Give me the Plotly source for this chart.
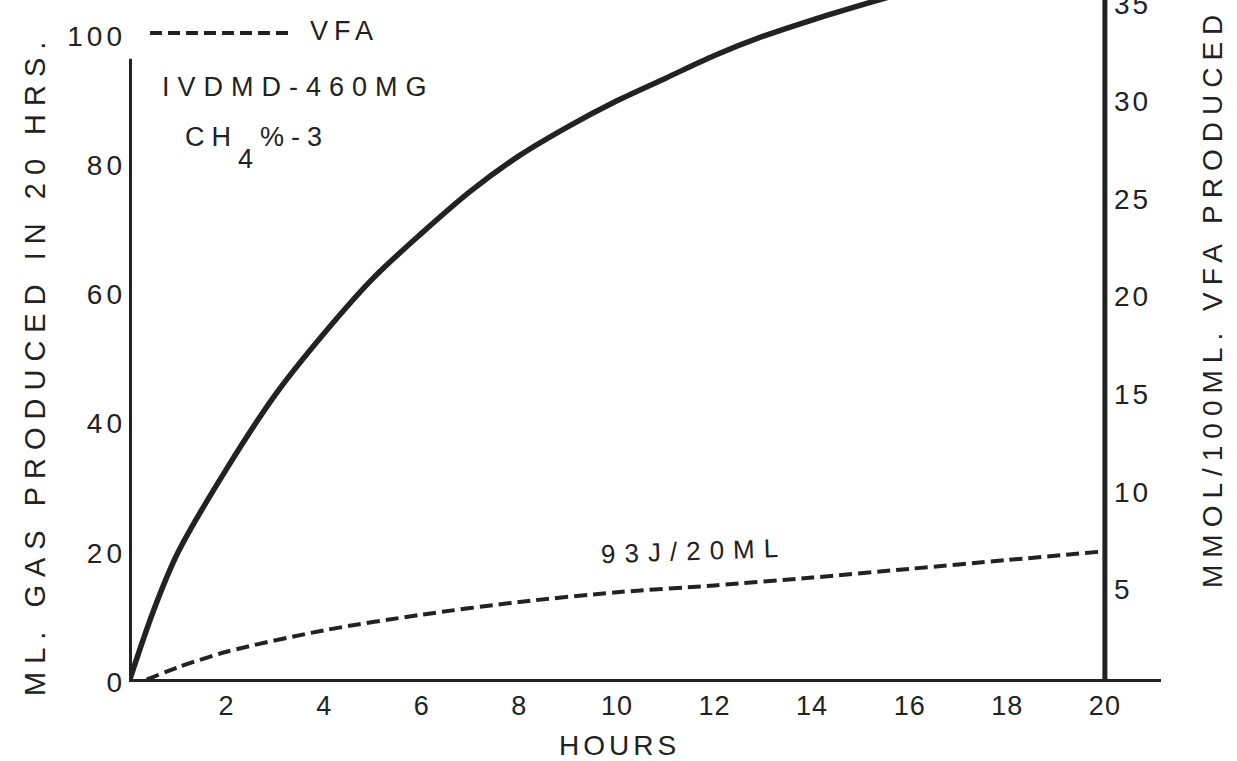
import plotly.graph_objects as go

# ---------------- data ----------------
hours_gas = [0, 0.5, 1, 2, 3, 4, 5, 6, 7, 8, 9, 10, 11, 12, 13, 14, 15, 16]
gas_ml = [0, 11, 20, 33, 44.5, 54, 62.5, 69.5, 76, 81.5, 86, 90, 93.5, 97, 100, 102.5, 104.8, 107]

hours_vfa = [0, 1, 2, 4, 6, 8, 10, 12, 14, 16, 18, 20]
vfa_mmol = [0, 1.0, 1.8, 2.9, 3.7, 4.35, 4.85, 5.2, 5.6, 6.05, 6.5, 6.95]

x_ticks = [2, 4, 6, 8, 10, 12, 14, 16, 18, 20]
x_tick_labels = ["2", "4", "6", "8", "10", "12", "14", "16", "18", "20"]
left_ticks = [0, 20, 40, 60, 80, 100]
left_tick_labels = ["0", "20", "40", "60", "80", "100"]
right_ticks = [5, 10, 15, 20, 25, 30, 35]
right_tick_labels = ["5", "10", "15", "20", "25", "30", "35"]

x_title = "HOURS"
left_title = "ML. GAS PRODUCED IN 20 HRS."
right_title = "MMOL/100ML. VFA PRODUCED"
legend_label = "VFA"
note_1 = "IVDMD-460MG"
note_2 = "CH<span style=\"baseline-shift:-22px\">4</span>%-3"
curve_label = "93J/20ML"

# ---------------- layout geometry ----------------
W, H = 1237, 761
ML, MR, MT, MB = 129, 76, 0, 79
PW, PH = W - ML - MR, H - MT - MB
X_MAX = 21.15
INK = "#222222"
FONT = "Liberation Sans, Arial, sans-serif"


def px(xp):
    return (xp - ML) / PW


def py(yp):
    return (MT + PH - yp) / PH


def spaced(t, s):
    return f'<span style="letter-spacing:{s}px">{t}</span>'


fig = go.Figure()

fig.add_trace(go.Scatter(
    x=hours_gas, y=gas_ml, mode="lines", line=dict(color=INK, width=5.5, shape="spline", smoothing=0.9),
    yaxis="y", hoverinfo="skip"))
fig.add_trace(go.Scatter(
    x=hours_vfa, y=vfa_mmol, mode="lines", line=dict(color=INK, width=4, dash="13px,6px", shape="spline", smoothing=0.8),
    yaxis="y2", hoverinfo="skip"))

shapes = [
    # left axis
    dict(type="line", xref="x", yref="y", x0=0, x1=0, y0=0, y1=96.5, line=dict(color=INK, width=6)),
    # bottom axis
    dict(type="line", xref="x", yref="y", x0=0, x1=X_MAX, y0=0, y1=0, line=dict(color=INK, width=6)),
    # right axis
    dict(type="line", xref="x", yref="paper", x0=20, x1=20, y0=0, y1=1, line=dict(color=INK, width=5)),
    # legend sample
    dict(type="line", xref="paper", yref="paper", x0=px(150), x1=px(294), y0=py(33), y1=py(33),
         line=dict(color=INK, width=4, dash="12px,6px")),
]

annotations = [
    dict(text=spaced(left_title, 8), x=px(35), y=py(365), textangle=-90, font=dict(size=29)),
    dict(text=spaced(right_title, 7), x=px(1213), y=py(298), textangle=-90, font=dict(size=28)),
    dict(text=spaced(x_title, 4), x=px(619), y=py(745), font=dict(size=28)),
    dict(text=spaced(legend_label, 6), x=px(308), y=py(31), xanchor="left", font=dict(size=27)),
    dict(text=spaced(note_1, 8), x=px(160), y=py(87), xanchor="left", font=dict(size=27)),
    dict(text=spaced(note_2, 7), x=px(183), y=py(148), xanchor="left", font=dict(size=27)),
    dict(text=spaced(curve_label, 9), x=px(694), y=py(551), textangle=-2, font=dict(size=26)),
]
for a in annotations:
    a.setdefault("xanchor", "center")
    a.setdefault("yanchor", "middle")
    a.update(xref="paper", yref="paper", showarrow=False)
    a["font"].update(color=INK, family=FONT)

fig.update_layout(
    width=W, height=H,
    margin=dict(l=ML, r=MR, t=MT, b=MB, pad=0, autoexpand=False),
    paper_bgcolor="white", plot_bgcolor="white",
    showlegend=False,
    font=dict(family=FONT, color=INK),
    xaxis=dict(range=[0, X_MAX], tickvals=x_ticks, ticktext=[spaced(t, 1) for t in x_tick_labels],
               showgrid=False, zeroline=False, showline=False, ticks="", automargin=False,
               tickfont=dict(size=27, color=INK), ticklabelstandoff=5),
    yaxis=dict(range=[0, 105.6], tickvals=left_ticks, ticktext=[spaced(t, 4) for t in left_tick_labels],
               showgrid=False, zeroline=False, showline=False, ticks="", automargin=False,
               tickfont=dict(size=28, color=INK), ticklabelstandoff=2),
    yaxis2=dict(range=[0.25, 35.2], overlaying="y", side="right", anchor="free", position=20 / X_MAX,
                tickvals=right_ticks, ticktext=[spaced(t, 3) for t in right_tick_labels],
                showgrid=False, zeroline=False, showline=False, ticks="", automargin=False,
                ticklabeloverflow="allow",
                tickfont=dict(size=28, color=INK), ticklabelstandoff=8),
    shapes=shapes,
    annotations=annotations,
)

fig.write_html("out.html")
